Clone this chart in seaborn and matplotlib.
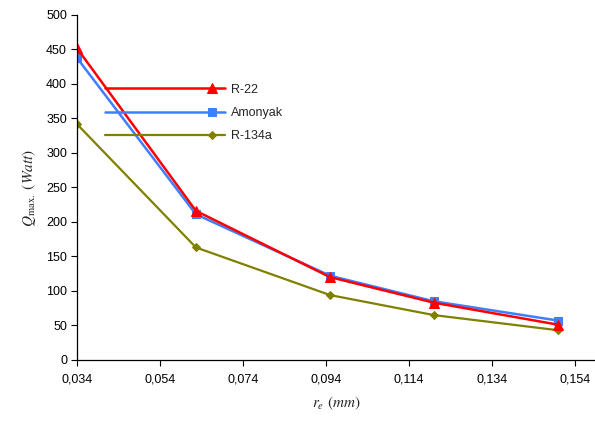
import matplotlib
matplotlib.use("Agg")
import matplotlib.pyplot as plt
from matplotlib.lines import Line2D
from matplotlib.legend_handler import HandlerLine2D
import numpy as np
import pandas as pd
import seaborn as sns

# values
r_e = [0.034, 0.0627, 0.095, 0.120, 0.150]
q_r22 = [452, 216, 120, 83, 51]
q_amonyak = [438, 211, 122, 85, 57]
q_r134a = [342, 163, 94, 65, 43]
series = ["R-22", "Amonyak", "R-134a"]
xticks = [0.034, 0.054, 0.074, 0.094, 0.114, 0.134, 0.154]
yticks = [0, 50, 100, 150, 200, 250, 300, 350, 400, 450, 500]

df = pd.concat([
    pd.DataFrame({"r": r_e, "q": q_r134a, "fluid": "R-134a"}),
    pd.DataFrame({"r": r_e, "q": q_amonyak, "fluid": "Amonyak"}),
    pd.DataFrame({"r": r_e, "q": q_r22, "fluid": "R-22"}),
])

colors = {"R-22": "#ff0000", "Amonyak": "#3f7fff", "R-134a": "#808000"}
markers = {"R-22": "^", "Amonyak": "s", "R-134a": "D"}
msizes = {"R-22": 7, "Amonyak": 6, "R-134a": 4.5}

sns.set_style("white")
plt.rcParams["font.family"] = ["Liberation Sans", "DejaVu Sans"]
plt.rcParams["mathtext.fontset"] = "stix"

fig = plt.figure(figsize=(5.95, 4.23), dpi=100)
ax = fig.add_axes([0.129, 0.149, 0.871, 0.816])

for name in ["R-134a", "Amonyak", "R-22"]:
    sub = df[df["fluid"] == name]
    sns.lineplot(data=sub, x="r", y="q", ax=ax, color=colors[name],
                 marker=markers[name], markersize=msizes[name],
                 markeredgecolor=colors[name], linewidth=1.8 if name != "R-134a" else 1.6,
                 label=name)

ax.set_xlim(0.034, 0.1588)
ax.set_ylim(0, 500)
ax.set_xticks(xticks)
ax.set_xticklabels([f"{t:.3f}".replace(".", ",") for t in xticks])
ax.set_yticks(yticks)
ax.tick_params(axis="both", labelsize=9, length=4, width=0.8, direction="out",
               colors="black", pad=3)
ax.tick_params(axis="x", pad=6)
ax.tick_params(bottom=True, left=True)
for s in ["top", "right"]:
    ax.spines[s].set_visible(False)
for s in ["left", "bottom"]:
    ax.spines[s].set_color("black")
    ax.spines[s].set_linewidth(0.9)

ax.set_xlabel(r"$r_e\ (mm)$", fontsize=11, labelpad=6)
ax.set_ylabel(r"$Q_{\mathrm{max.}}\ (Watt)$", fontsize=11, labelpad=6)


# legend key: long leader line with the marker near its right end
class EndMarker(HandlerLine2D):
    def get_xdata(self, legend, xdescent, ydescent, width, height, fontsize):
        x0, x1 = -xdescent, width - xdescent
        xs = np.array([x0, x0 + 0.89 * width, x1])
        return xs, xs

    def create_artists(self, *args, **kwargs):
        arts = super().create_artists(*args, **kwargs)
        arts[0].set_markevery([1])
        return arts


handles, labels = ax.get_legend_handles_labels()
order = [labels.index(s) for s in series]
ax.legend([handles[i] for i in order], [labels[i] for i in order],
          handler_map={Line2D: EndMarker(numpoints=3)},
          loc="upper left", bbox_to_anchor=(0.054, 0.80), frameon=False,
          fontsize=9, handlelength=9.6, handletextpad=0.5, labelspacing=0.9,
          borderpad=0, borderaxespad=0)

fig.savefig("out.png", dpi=100)
